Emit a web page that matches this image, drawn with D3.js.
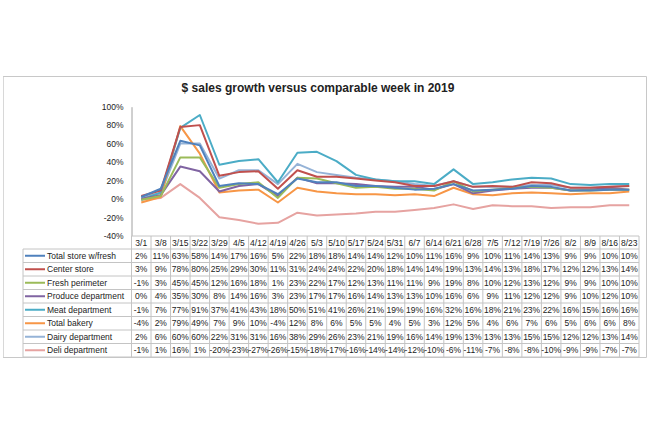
<!DOCTYPE html>
<html><head><meta charset="utf-8">
<script src="https://cdn.jsdelivr.net/npm/d3@7"></script>
<style>body{margin:0;background:#fff;} text{font-family:"Liberation Sans",Arial,sans-serif;fill:#222;}</style>
</head><body><svg id="c" width="650" height="433"></svg>
<script>
const weeks = ["3/1","3/8","3/15","3/22","3/29","4/5","4/12","4/19","4/26","5/3","5/10","5/17","5/24","5/31","6/7","6/14","6/21","6/28","7/5","7/12","7/19","7/26","8/2","8/9","8/16","8/23"];
const seriesNames = ["Total store w/fresh","Center store","Fresh perimeter","Produce department","Meat department","Total bakery","Dairy department","Deli department"];
const totalStore = [2,11,63,58,14,17,16,5,22,18,18,14,14,12,10,11,16,9,10,11,14,13,9,9,10,10];
const centerStore = [3,9,78,80,25,29,30,11,31,24,24,22,20,18,14,14,19,13,14,13,18,17,12,12,13,14];
const freshPerimeter = [-1,3,45,45,12,16,18,1,23,22,17,12,13,11,11,9,19,8,10,12,13,12,9,9,10,10];
const produce = [0,4,35,30,8,14,16,3,23,17,17,16,14,13,13,10,16,6,9,11,12,12,9,10,12,10];
const meat = [-1,7,77,91,37,41,43,18,50,51,41,26,21,19,19,16,32,16,18,21,23,22,16,15,16,16];
const bakery = [-4,2,79,49,7,9,10,-4,12,8,6,5,5,4,5,3,12,5,4,6,7,6,5,6,6,8];
const dairy = [2,6,60,60,22,31,31,16,38,29,26,23,21,19,16,14,19,13,13,13,15,15,12,12,13,14];
const deli = [-1,1,16,1,-20,-23,-27,-26,-15,-18,-17,-16,-14,-14,-12,-10,-6,-11,-7,-8,-8,-10,-9,-9,-7,-7];
const yTicks = [-40,-20,0,20,40,60,80,100];
const colors = ["#4F81BD","#C0504D","#9BBB59","#8064A2","#4BACC6","#F79646","#95B3D7","#E6A3A1"];

const allSeries = [totalStore,centerStore,freshPerimeter,produce,meat,bakery,dairy,deli];
const svg = d3.select("#c");
const grid = "#c4c4c4";

// outer frame (dotted left edge)
svg.append("path").attr("d","M3.5,76.5H646.5V357.5H3.5")
  .attr("fill","none").attr("stroke","#c8c8c8");
svg.append("line").attr("x1",3.5).attr("x2",3.5).attr("y1",76.5).attr("y2",357.5)
  .attr("stroke","#b0b0b0").attr("stroke-dasharray","1,1");

svg.append("text").attr("x",318).attr("y",92).attr("text-anchor","middle")
  .attr("font-size",12).attr("font-weight","bold").text("$ sales growth versus comparable week in 2019");

const x = d3.scaleBand().domain(weeks).range([131.5,639]);
const y = d3.scaleLinear().domain([-40,100]).range([235.7,106.7]);

const yAxis = svg.append("g").attr("transform","translate(131.5,0)")
  .call(d3.axisLeft(y).tickValues(yTicks).tickSize(0).tickPadding(8).tickFormat(d=>d+"%"));
yAxis.select(".domain").attr("stroke","#a0a0a0");
yAxis.selectAll("text").attr("font-size",8.5).attr("font-family","Liberation Sans, Arial, sans-serif").attr("fill","#222");

const line = d3.line().x((d,i)=>x(weeks[i])+x.bandwidth()/2).y(d=>y(d));
allSeries.map((s,i)=>({s,i})).reverse().forEach(({s,i})=>{
  svg.append("path").datum(s).attr("d",line).attr("fill","none")
    .attr("stroke",colors[i]).attr("stroke-width",2).attr("stroke-linejoin","round");
});

// table
const headTop = 236, rowH = 13.5, tableTop = 249, tableLeft = 23, right = 639;
const tbl = svg.append("g");
const bottom = tableTop + rowH*allSeries.length;
tbl.append("line").attr("x1",131.5).attr("x2",right).attr("y1",headTop).attr("y2",headTop).attr("stroke",grid);
for (let r=0;r<=allSeries.length;r++){
  const yy = tableTop + r*rowH;
  tbl.append("line").attr("x1",tableLeft).attr("x2",right).attr("y1",yy).attr("y2",yy).attr("stroke",grid);
}
tbl.append("line").attr("x1",tableLeft).attr("x2",tableLeft).attr("y1",tableTop).attr("y2",bottom).attr("stroke",grid);
weeks.forEach(w=>{
  tbl.append("line").attr("x1",x(w)).attr("x2",x(w)).attr("y1",headTop).attr("y2",bottom).attr("stroke",grid);
});
tbl.append("line").attr("x1",right).attr("x2",right).attr("y1",headTop).attr("y2",bottom).attr("stroke",grid);

weeks.forEach(w=>{
  tbl.append("text").attr("x",x(w)+x.bandwidth()/2).attr("y",headTop+rowH/2+3)
    .attr("text-anchor","middle").attr("font-size",8.5).text(w);
});
allSeries.forEach((s,i)=>{
  const cy = tableTop + i*rowH + rowH/2;
  tbl.append("line").attr("x1",25).attr("x2",45).attr("y1",cy).attr("y2",cy)
    .attr("stroke",colors[i]).attr("stroke-width",2);
  tbl.append("text").attr("x",47).attr("y",cy+3).attr("font-size",8.5).text(seriesNames[i]);
  s.forEach((v,j)=>{
    tbl.append("text").attr("x",x(weeks[j])+x.bandwidth()/2).attr("y",cy+3)
      .attr("text-anchor","middle").attr("font-size",8.5).text(v+"%");
  });
});
</script></body></html>
